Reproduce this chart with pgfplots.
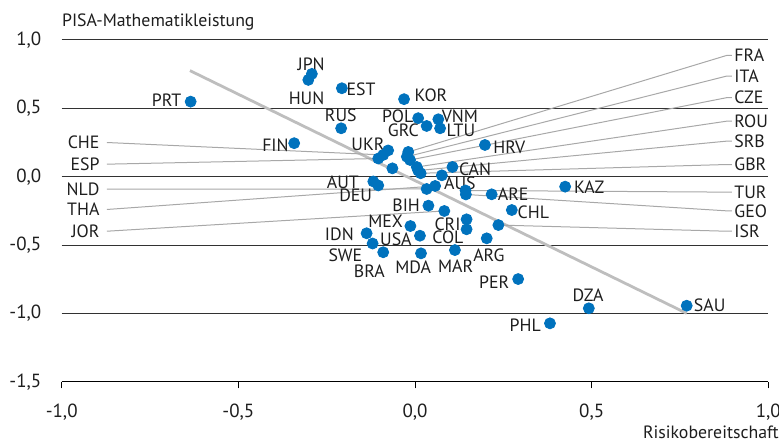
\documentclass[border=0pt]{standalone}
\usepackage{fontspec}
\setmainfont{PT Sans}
\usepackage{pgfplots}
\usepackage{pgfplotstable}
\pgfplotsset{compat=1.18}
\definecolor{dot}{RGB}{0,114,189}
\definecolor{lead}{RGB}{168,168,168}
\definecolor{trend}{RGB}{190,190,190}
\definecolor{gridc}{RGB}{50,50,50}
\definecolor{txt}{RGB}{30,30,30}

\pgfplotstableread{
code x y
PRT -0.635 0.549
JPN -0.292 0.752
HUN -0.302 0.708
EST -0.207 0.647
KOR -0.031 0.567
RUS -0.209 0.354
POL 0.009 0.428
VNM 0.066 0.420
GRC 0.033 0.371
LTU 0.071 0.354
FIN -0.342 0.245
HRV 0.198 0.232
UKR -0.076 0.192
CHE -0.090 0.159
ESP -0.104 0.133
FRA -0.019 0.181
ITA -0.023 0.146
CZE -0.014 0.122
XXX -0.064 0.061
ROU 0.005 0.071
SRB 0.009 0.045
GBR 0.016 0.025
CAN 0.106 0.071
AUS 0.076 0.010
AUT -0.118 -0.035
DEU -0.104 -0.064
NLD 0.033 -0.090
THA 0.057 -0.068
TUR 0.143 -0.101
GEO 0.144 -0.130
ARE 0.217 -0.129
KAZ 0.425 -0.073
BIH 0.038 -0.212
JOR 0.083 -0.251
CHL 0.274 -0.244
CRI 0.146 -0.312
COL 0.146 -0.385
ISR 0.236 -0.354
MEX -0.013 -0.361
USA 0.014 -0.432
IDN -0.137 -0.414
SWE -0.120 -0.489
BRA -0.090 -0.553
MDA 0.017 -0.561
MAR 0.113 -0.537
ARG 0.203 -0.451
PER 0.292 -0.749
DZA 0.492 -0.963
SAU 0.769 -0.944
PHL 0.382 -1.073
}\points

\begin{document}
\begin{tikzpicture}[font=\fontsize{8.9bp}{10.5bp}\selectfont,
  lbl/.style={inner sep=0pt, anchor=center, text=txt},
  lblw/.style={inner sep=0pt, anchor=west, text=txt},
  lble/.style={inner sep=0pt, anchor=east, text=txt}]
\begin{axis}[
  name=ax, at={(0,0)}, anchor=south west,
  scale only axis, width=353.3bp, height=170.85bp,
  xmin=-1, xmax=1, ymin=-1.5, ymax=1,
  axis x line*=bottom, axis y line*=left,
  x axis line style={-, black, line width=0.5bp},
  y axis line style={draw=none},
  xtick={-1,-0.5,0,0.5,1},
  xticklabels={{-1,0},{-0,5},{0,0},{0,5},{1,0}},
  ytick={-1.5,-1,-0.5,0,0.5,1},
  yticklabels={{-1,5},{-1,0},{-0,5},{0,0},{0,5},{1,0}},
  tick align=outside, major tick length=3.3bp,
  xtick style={black, line width=0.5bp},
  ytick style={draw=none},
  ymajorgrids, grid style={gridc, line width=0.5bp},
  ticklabel style={font=\fontsize{9.5bp}{11bp}\selectfont, text=txt},
  yticklabel style={anchor=east, inner sep=0pt, xshift=-6.7bp},
  xticklabel style={anchor=base, inner sep=0pt, yshift=-14.35bp},
  clip=false,
]
% trend line
\addplot[trend, line width=1.4bp] coordinates {(-0.637,0.776) (0.769,-1.0)};
% leader lines right
\addplot[lead, line width=0.5bp] coordinates {(-0.019,0.181) (0.882,0.887) (0.897,0.887)};
\addplot[lead, line width=0.5bp] coordinates {(-0.023,0.146) (0.882,0.736) (0.897,0.736)};
\addplot[lead, line width=0.5bp] coordinates {(-0.014,0.122) (0.882,0.578) (0.897,0.578)};
\addplot[lead, line width=0.5bp] coordinates {(0.005,0.071) (0.882,0.406) (0.897,0.406)};
\addplot[lead, line width=0.5bp] coordinates {(0.009,0.045) (0.882,0.260) (0.897,0.260)};
\addplot[lead, line width=0.5bp] coordinates {(0.016,0.025) (0.882,0.089) (0.897,0.089)};
\addplot[lead, line width=0.5bp] coordinates {(0.143,-0.101) (0.882,-0.113) (0.897,-0.113)};
\addplot[lead, line width=0.5bp] coordinates {(0.144,-0.130) (0.882,-0.250) (0.897,-0.250)};
\addplot[lead, line width=0.5bp] coordinates {(0.236,-0.354) (0.882,-0.399) (0.897,-0.399)};
% leader lines left
\addplot[lead, line width=0.5bp] coordinates {(-0.090,0.159) (-0.872,0.250)};
\addplot[lead, line width=0.5bp] coordinates {(-0.104,0.133) (-0.872,0.0915)};
\addplot[lead, line width=0.5bp] coordinates {(0.033,-0.090) (-0.872,-0.0915)};
\addplot[lead, line width=0.5bp] coordinates {(0.057,-0.068) (-0.872,-0.240)};
\addplot[lead, line width=0.5bp] coordinates {(0.083,-0.251) (-0.872,-0.399)};
% points
\addplot[only marks, mark=*, mark size=2.75bp, mark options={draw=dot, fill=dot}] table[x=x, y=y] {\points};
% right labels
\node[lblw] at (axis cs:0.903,0.887) {FRA};
\node[lblw] at (axis cs:0.903,0.736) {ITA};
\node[lblw] at (axis cs:0.903,0.578) {CZE};
\node[lblw] at (axis cs:0.903,0.406) {ROU};
\node[lblw] at (axis cs:0.903,0.260) {SRB};
\node[lblw] at (axis cs:0.903,0.089) {GBR};
\node[lblw] at (axis cs:0.903,-0.113) {TUR};
\node[lblw] at (axis cs:0.903,-0.250) {GEO};
\node[lblw] at (axis cs:0.903,-0.399) {ISR};
% left labels
\node[lble] at (axis cs:-0.892,0.250) {CHE};
\node[lble] at (axis cs:-0.892,0.0915) {ESP};
\node[lble] at (axis cs:-0.892,-0.0915) {NLD};
\node[lble] at (axis cs:-0.892,-0.240) {THA};
\node[lble] at (axis cs:-0.892,-0.399) {JOR};
% direct labels
\node[lbl] at (axis cs:-0.703,0.558) {PRT};
\node[lbl] at (axis cs:-0.294,0.825) {JPN};
\node[lbl] at (axis cs:-0.307,0.574) {HUN};
\node[lbl] at (axis cs:-0.153,0.643) {EST};
\node[lbl] at (axis cs:-0.210,0.446) {RUS};
\node[lbl] at (axis cs:-0.395,0.230) {FIN};
\node[lbl] at (axis cs:-0.133,0.239) {UKR};
\node[lbl] at (axis cs:-0.204,-0.042) {AUT};
\node[lbl] at (axis cs:-0.168,-0.134) {DEU};
\node[lbl] at (axis cs:0.045,0.592) {KOR};
\node[lbl] at (axis cs:-0.049,0.439) {POL};
\node[lbl] at (axis cs:0.127,0.442) {VNM};
\node[lbl] at (axis cs:-0.033,0.336) {GRC};
\node[lbl] at (axis cs:0.130,0.342) {LTU};
\node[lbl] at (axis cs:0.267,0.214) {HRV};
\node[lbl] at (axis cs:0.170,0.055) {CAN};
\node[lbl] at (axis cs:0.127,-0.050) {AUS};
\node[lbl] at (axis cs:0.493,-0.079) {KAZ};
\node[lbl] at (axis cs:0.278,-0.128) {ARE};
\node[lbl] at (axis cs:0.335,-0.262) {CHL};
\node[lbl] at (axis cs:-0.025,-0.209) {BIH};
\node[lbl] at (axis cs:0.092,-0.348) {CRI};
\node[lbl] at (axis cs:0.093,-0.445) {COL};
\node[lbl] at (axis cs:-0.083,-0.323) {MEX};
\node[lbl] at (axis cs:-0.054,-0.458) {USA};
\node[lbl] at (axis cs:-0.214,-0.425) {IDN};
\node[lbl] at (axis cs:-0.197,-0.575) {SWE};
\node[lbl] at (axis cs:-0.129,-0.689) {BRA};
\node[lbl] at (axis cs:-0.005,-0.665) {MDA};
\node[lbl] at (axis cs:0.115,-0.652) {MAR};
\node[lbl] at (axis cs:0.209,-0.575) {ARG};
\node[lbl] at (axis cs:0.224,-0.769) {PER};
\node[lbl] at (axis cs:0.490,-0.866) {DZA};
\node[lbl] at (axis cs:0.834,-0.944) {SAU};
\node[lbl] at (axis cs:0.312,-1.089) {PHL};
% axis titles
\node[inner sep=0pt, anchor=base west, text=txt] at ([yshift=6.65bp]rel axis cs:0,1) {PISA-Mathematikleistung};
\node[inner sep=0pt, anchor=base east, text=txt] at ([xshift=5.35bp, yshift=-28.3bp]rel axis cs:1,0) {Risikobereitschaft};
\end{axis}
\pgfresetboundingbox
\path[use as bounding box] ([xshift=-30.85bp, yshift=-30.65bp]ax.south west) rectangle ([xshift=5.35bp, yshift=20bp]ax.north east);
\end{tikzpicture}
\end{document}
